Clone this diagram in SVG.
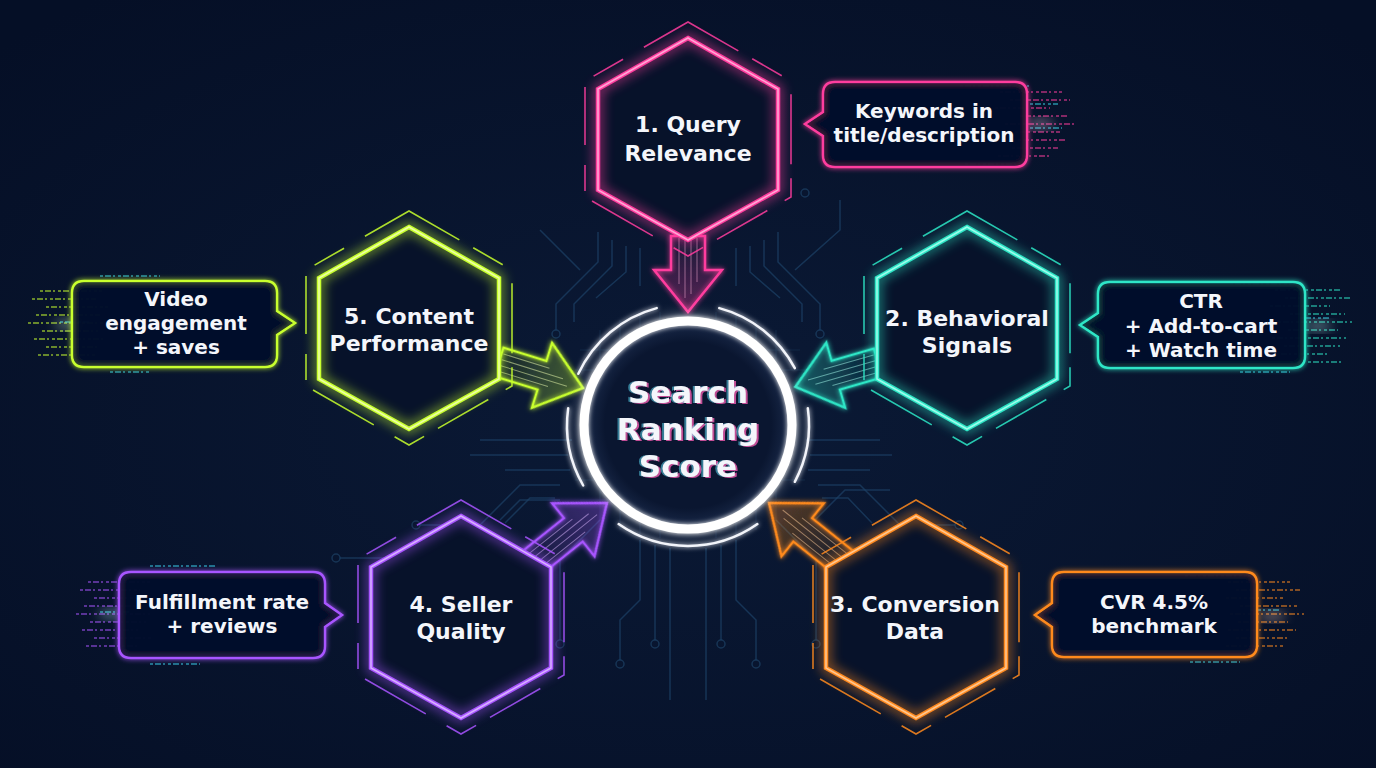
<svg xmlns="http://www.w3.org/2000/svg" width="1376" height="768" viewBox="0 0 1376 768">
<defs>
<radialGradient id="bg" cx="50%" cy="55%" r="70%">
<stop offset="0" stop-color="#0b1a36"/>
<stop offset="1" stop-color="#050f26"/>
</radialGradient>
<radialGradient id="coreFill" cx="50%" cy="50%" r="50%">
<stop offset="0" stop-color="#0a1630"/>
<stop offset="0.8" stop-color="#0a1630"/>
<stop offset="1" stop-color="#1a2a4a"/>
</radialGradient>
<filter id="softglow" x="-30%" y="-30%" width="160%" height="160%">
<feGaussianBlur stdDeviation="2.5" result="b"/>
<feMerge><feMergeNode in="b"/><feMergeNode in="SourceGraphic"/></feMerge>
</filter>
<filter id="blur6" x="-50%" y="-50%" width="200%" height="200%">
<feGaussianBlur stdDeviation="6"/>
</filter>
<filter id="chroma" x="-10%" y="-20%" width="120%" height="140%">
<feOffset in="SourceAlpha" dx="2" dy="1" result="o1"/>
<feFlood flood-color="#ff5fb8" flood-opacity="0.75"/>
<feComposite in2="o1" operator="in" result="p"/>
<feOffset in="SourceAlpha" dx="-2" dy="0" result="o2"/>
<feFlood flood-color="#5fe6ff" flood-opacity="0.5"/>
<feComposite in2="o2" operator="in" result="c"/>
<feMerge><feMergeNode in="p"/><feMergeNode in="c"/><feMergeNode in="SourceGraphic"/></feMerge>
</filter>
<linearGradient id="gPink" x1="0" y1="0" x2="1" y2="0"><stop offset="0" stop-color="#ff3d9e" stop-opacity="0.02"/><stop offset="1" stop-color="#ff3d9e" stop-opacity="0.18"/></linearGradient>
<linearGradient id="gTeal" x1="0" y1="0" x2="1" y2="0"><stop offset="0" stop-color="#2ee6c6" stop-opacity="0.02"/><stop offset="1" stop-color="#2ee6c6" stop-opacity="0.18"/></linearGradient>
<linearGradient id="gLime" x1="0" y1="0" x2="1" y2="0"><stop offset="0" stop-color="#c8ff2e" stop-opacity="0.02"/><stop offset="1" stop-color="#c8ff2e" stop-opacity="0.18"/></linearGradient>
<linearGradient id="gPurple" x1="0" y1="0" x2="1" y2="0"><stop offset="0" stop-color="#a855ff" stop-opacity="0.02"/><stop offset="1" stop-color="#a855ff" stop-opacity="0.18"/></linearGradient>
<linearGradient id="gOrange" x1="0" y1="0" x2="1" y2="0"><stop offset="0" stop-color="#ff8a1f" stop-opacity="0.02"/><stop offset="1" stop-color="#ff8a1f" stop-opacity="0.18"/></linearGradient>
<style>
.circuit{fill:none;stroke:#1d4266;stroke-width:1.5;opacity:0.7}
.grid{fill:none;stroke:#1d4266;stroke-width:1;opacity:0.35}
.term{fill:none;stroke:#1d4266;stroke-width:1.5;opacity:0.7}
.hexfill{fill:#07122a}
.hexglow{fill:none;stroke-width:9;opacity:0.55}
.hexline{fill:none;stroke-width:4.5;stroke-linejoin:miter}
.hexcore{fill:none;stroke-width:1.6;stroke-linejoin:miter;opacity:0.9}
.frame{fill:none;stroke-width:1.6;stroke-dasharray:58 16 34 24 70 14 26 20;opacity:0.85}
.callout{fill:#07122a;fill-opacity:0.85;stroke-width:2.5}
.arrow{stroke-width:2.5;stroke-linejoin:miter}
.streak{stroke-width:2;stroke-dasharray:3 2 6 2 2 3;opacity:0.5}
.pink{stroke:#ff3d9e}
.pinkc{stroke:#ffb0da}
.teal{stroke:#2ee6c6}
.tealc{stroke:#a8fff0}
.lime{stroke:#c8ff2e}
.limec{stroke:#efffb0}
.purple{stroke:#a855ff}
.purplec{stroke:#dcb8ff}
.orange{stroke:#ff8a1f}
.orangec{stroke:#ffcc99}
.cyan{stroke:#35d0e6}
text{font-family:"DejaVu Sans","Open Sans",sans-serif;font-weight:700;fill:#f4f6fb;text-anchor:middle}
.ht{font-size:22px}
.ct{font-size:20px}
.st{font-size:31px}
</style>
</defs>

<rect width="1376" height="768" fill="url(#bg)"/>

<g id="circuitry">
<g class="grid">
<path d="M600 330V520M620 320V530M640 315V535M660 312V538M716 312V538M736 315V535M756 320V530M776 330V520"/>
<path d="M580 350H800M575 370H805M575 480H805M580 500H800"/>
</g>
<path class="circuit" d="M598 232V262L556 304V330M612 240V266L574 304V322M626 246V272L596 298M640 248V286M736 248V286M750 246V272L780 298M764 240V266L802 304V322M778 232V262L820 304V330"/>
<path class="circuit" d="M480 440H572M470 455H568M505 470H570M560 485H520L480 525H420M555 498H530L505 523M880 440H806M892 455H810M870 470H808M818 485H860L900 525H955M822 498H848L872 523"/>
<path class="circuit" d="M640 540V600L620 620V660M655 545V640M670 548V700M706 548V700M721 545V640M736 540V600L756 620V660M600 520L560 560V640M776 520L816 560V640"/>
<path class="circuit" d="M560 500H520L500 520M490 560H455M340 558H460M860 545H940M815 520L845 490H890"/>
<path class="circuit" d="M795 270L840 230V200M580 270L540 230"/>
<g class="term"><circle cx="620" cy="664" r="4"/><circle cx="655" cy="644" r="4"/><circle cx="756" cy="664" r="4"/><circle cx="721" cy="644" r="4"/><circle cx="560" cy="644" r="4"/><circle cx="816" cy="644" r="4"/><circle cx="416" cy="525" r="4"/><circle cx="959" cy="525" r="4"/><circle cx="805" cy="193" r="4"/><circle cx="336" cy="558" r="4"/><circle cx="944" cy="545" r="4"/><circle cx="556" cy="334" r="4"/><circle cx="820" cy="334" r="4"/></g>
</g>

<g id="connectors">
<g id="arrow-1" transform="translate(688 236) rotate(90)">
<polygon class="arrow pink" filter="url(#softglow)" fill="url(#gPink)" points="0,-17 34,-17 34,-34 76,0 34,34 34,17 0,17"/>
<path class="pinkc" stroke-width="1" opacity="0.5" d="M2 -9H46M2 -3H58M2 3H62M2 9H48"/>
</g>
<g id="arrow-2" transform="translate(878 363) rotate(163.9)">
<polygon class="arrow teal" filter="url(#softglow)" fill="url(#gTeal)" points="0,-15 44,-15 44,-34 86,0 44,34 44,15 0,15"/>
<path class="tealc" stroke-width="1" opacity="0.5" d="M2 -9H50M2 -3H66M2 3H72M2 9H54"/>
</g>
<g id="arrow-5" transform="translate(499 362) rotate(17.2)">
<polygon class="arrow lime" filter="url(#softglow)" fill="url(#gLime)" points="0,-15 45,-15 45,-34 88,0 45,34 45,15 0,15"/>
<path class="limec" stroke-width="1" opacity="0.5" d="M2 -9H50M2 -3H66M2 3H72M2 9H54"/>
</g>
<g id="arrow-4" transform="translate(528 566) rotate(-38.6)">
<polygon class="arrow purple" filter="url(#softglow)" fill="url(#gPurple)" points="0,-15 58,-15 58,-34 101,0 58,34 58,15 0,15"/>
<path class="purplec" stroke-width="1" opacity="0.5" d="M2 -9H64M2 -3H80M2 3H86M2 9H66"/>
</g>
<g id="arrow-3" transform="translate(848 566) rotate(218.6)">
<polygon class="arrow orange" filter="url(#softglow)" fill="url(#gOrange)" points="0,-15 58,-15 58,-34 101,0 58,34 58,15 0,15"/>
<path class="orangec" stroke-width="1" opacity="0.5" d="M2 -9H64M2 -3H80M2 3H86M2 9H66"/>
</g>
</g>

<g id="node-1">
<path class="streak pink" d="M1000 92H1062M1010 100H1070M995 108H1050M1020 116H1068M1005 124H1075M1015 132H1060M1000 140H1066M1012 148H1058M998 156H1050"/>
<path class="streak cyan" d="M960 86H1030M1030 104H1058M1030 128H1062M965 164H1020"/>
<ellipse cx="1040" cy="124" rx="14" ry="4" fill="#ffd0ea" opacity="0.5" filter="url(#blur6)"/>
<path class="frame pink" d="M688 22L791 81V197L688 256L585 197V81Z"/>
<polygon class="hexfill" points="688,38 778,89 778,190 688,240 598,190 598,89"/>
<polygon class="hexglow pink" filter="url(#blur6)" points="688,38 778,89 778,190 688,240 598,190 598,89"/>
<polygon class="hexline pink" points="688,38 778,89 778,190 688,240 598,190 598,89"/>
<polygon class="hexcore pinkc" points="688,38 778,89 778,190 688,240 598,190 598,89"/>
<text class="ht" x="688" y="132">1. Query<tspan x="688" dy="29">Relevance</tspan></text>
<path class="callout pink" filter="url(#softglow)" d="M835 82H1015Q1027 82 1027 94V155Q1027 167 1015 167H835Q823 167 823 155V136L805 124L823 112V94Q823 82 835 82Z"/>
<text class="ct" x="924" y="118">Keywords in<tspan x="924" dy="24">title/description</tspan></text>
</g>

<g id="node-2">
<path class="streak teal" d="M1275 290H1340M1285 298H1350M1270 306H1330M1290 314H1345M1278 322H1352M1288 330H1338M1272 338H1346M1284 346H1340M1276 354H1330M1290 362H1342"/>
<path class="streak cyan" d="M1230 284H1300M1300 318H1330M1240 372H1290"/>
<ellipse cx="1318" cy="326" rx="14" ry="4" fill="#c8fff4" opacity="0.5" filter="url(#blur6)"/>
<path class="frame teal" d="M967 211L1070 270V386L967 445L864 386V270Z"/>
<polygon class="hexfill" points="967,227 1057,278 1057,379 967,429 877,379 877,278"/>
<polygon class="hexglow teal" filter="url(#blur6)" points="967,227 1057,278 1057,379 967,429 877,379 877,278"/>
<polygon class="hexline teal" points="967,227 1057,278 1057,379 967,429 877,379 877,278"/>
<polygon class="hexcore tealc" points="967,227 1057,278 1057,379 967,429 877,379 877,278"/>
<text class="ht" x="967" y="326">2. Behavioral<tspan x="967" dy="27">Signals</tspan></text>
<path class="callout teal" filter="url(#softglow)" d="M1110 282H1293Q1305 282 1305 294V356Q1305 368 1293 368H1110Q1098 368 1098 356V337L1080 325L1098 313V294Q1098 282 1110 282Z"/>
<text class="ct" x="1201" y="308">CTR<tspan x="1201" dy="24.5">+ Add-to-cart</tspan><tspan x="1201" dy="24.5">+ Watch time</tspan></text>
</g>

<g id="node-3">
<path class="streak orange" d="M1228 582H1290M1236 590H1300M1226 598H1284M1240 606H1298M1230 614H1304M1238 622H1288M1228 630H1296M1236 638H1290M1226 646H1284"/>
<path class="streak cyan" d="M1185 576H1250M1250 610H1280M1190 662H1240"/>
<ellipse cx="1272" cy="616" rx="14" ry="4" fill="#ffd6bf" opacity="0.5" filter="url(#blur6)"/>
<path class="frame orange" d="M916 500L1019 559V675L916 734L813 675V559Z"/>
<polygon class="hexfill" points="916,516 1006,567 1006,668 916,718 826,668 826,567"/>
<polygon class="hexglow orange" filter="url(#blur6)" points="916,516 1006,567 1006,668 916,718 826,668 826,567"/>
<polygon class="hexline orange" points="916,516 1006,567 1006,668 916,718 826,668 826,567"/>
<polygon class="hexcore orangec" points="916,516 1006,567 1006,668 916,718 826,668 826,567"/>
<text class="ht" x="915" y="612">3. Conversion<tspan x="915" dy="27">Data</tspan></text>
<path class="callout orange" filter="url(#softglow)" d="M1064 572H1245Q1257 572 1257 584V645Q1257 657 1245 657H1064Q1052 657 1052 645V627L1035 615L1052 603V584Q1052 572 1064 572Z"/>
<text class="ct" x="1154" y="609">CVR 4.5%<tspan x="1154" dy="24">benchmark</tspan></text>
</g>

<g id="node-4">
<path class="streak purple" d="M88 582H150M80 590H140M94 598H156M84 606H142M76 614H150M90 622H146M82 630H138M94 638H152M86 646H140"/>
<path class="streak cyan" d="M150 566H215M100 612H130M150 664H200"/>
<ellipse cx="112" cy="614" rx="14" ry="4" fill="#c0f0ff" opacity="0.5" filter="url(#blur6)"/>
<path class="frame purple" d="M461 500L564 559V675L461 734L358 675V559Z"/>
<polygon class="hexfill" points="461,516 551,567 551,668 461,718 371,668 371,567"/>
<polygon class="hexglow purple" filter="url(#blur6)" points="461,516 551,567 551,668 461,718 371,668 371,567"/>
<polygon class="hexline purple" points="461,516 551,567 551,668 461,718 371,668 371,567"/>
<polygon class="hexcore purplec" points="461,516 551,567 551,668 461,718 371,668 371,567"/>
<text class="ht" x="461" y="612">4. Seller<tspan x="461" dy="27">Quality</tspan></text>
<path class="callout purple" filter="url(#softglow)" d="M131 572H313Q325 572 325 584V603L342 615L325 627V646Q325 658 313 658H131Q119 658 119 646V584Q119 572 131 572Z"/>
<text class="ct" x="222" y="609">Fulfillment rate<tspan x="222" dy="24">+ reviews</tspan></text>
</g>

<g id="node-5">
<path class="streak lime" d="M40 291H102M32 299H96M46 307H108M36 315H100M28 323H104M42 331H98M34 339H106M46 347H100M38 355H96"/>
<path class="streak cyan" d="M100 276H160M60 322H90M110 372H150"/>
<ellipse cx="68" cy="324" rx="14" ry="4" fill="#d8ffd0" opacity="0.5" filter="url(#blur6)"/>
<path class="frame lime" d="M409 211L512 270V386L409 445L306 386V270Z"/>
<polygon class="hexfill" points="409,227 499,278 499,379 409,429 319,379 319,278"/>
<polygon class="hexglow lime" filter="url(#blur6)" points="409,227 499,278 499,379 409,429 319,379 319,278"/>
<polygon class="hexline lime" points="409,227 499,278 499,379 409,429 319,379 319,278"/>
<polygon class="hexcore limec" points="409,227 499,278 499,379 409,429 319,379 319,278"/>
<text class="ht" x="409" y="324">5. Content<tspan x="409" dy="27">Performance</tspan></text>
<path class="callout lime" filter="url(#softglow)" d="M84 281H265Q277 281 277 293V311L295 323L277 335V355Q277 367 265 367H84Q72 367 72 355V293Q72 281 84 281Z"/>
<text class="ct" x="176" y="306">Video<tspan x="176" dy="24">engagement</tspan><tspan x="176" dy="23.5">+ saves</tspan></text>
</g>

<g id="center">
<circle cx="688" cy="425" r="112" fill="#ffffff" opacity="0.25" filter="url(#blur6)"/>
<circle cx="688" cy="425" r="104" fill="url(#coreFill)"/>
<circle cx="688" cy="425" r="104" fill="none" stroke="#ffffff" stroke-width="9" filter="url(#softglow)"/>
<g fill="none" stroke="#f2f4fa" stroke-width="2.5" stroke-linecap="round" filter="url(#softglow)">
<path d="M578.3 373.8A121 121 0 0 1 656.7 308.1"/>
<path d="M719.3 308.1A121 121 0 0 1 794.8 368.2"/>
<path d="M807.8 408.2A121 121 0 0 1 794.8 481.8"/>
<path d="M757.4 524.1A121 121 0 0 1 618.6 524.1"/>
<path d="M583.2 485.5A121 121 0 0 1 568.2 408.2"/>
</g>
<text class="st" filter="url(#chroma)" x="688" y="403">Search<tspan x="688" dy="37">Ranking</tspan><tspan x="688" dy="37">Score</tspan></text>
</g>
</svg>
